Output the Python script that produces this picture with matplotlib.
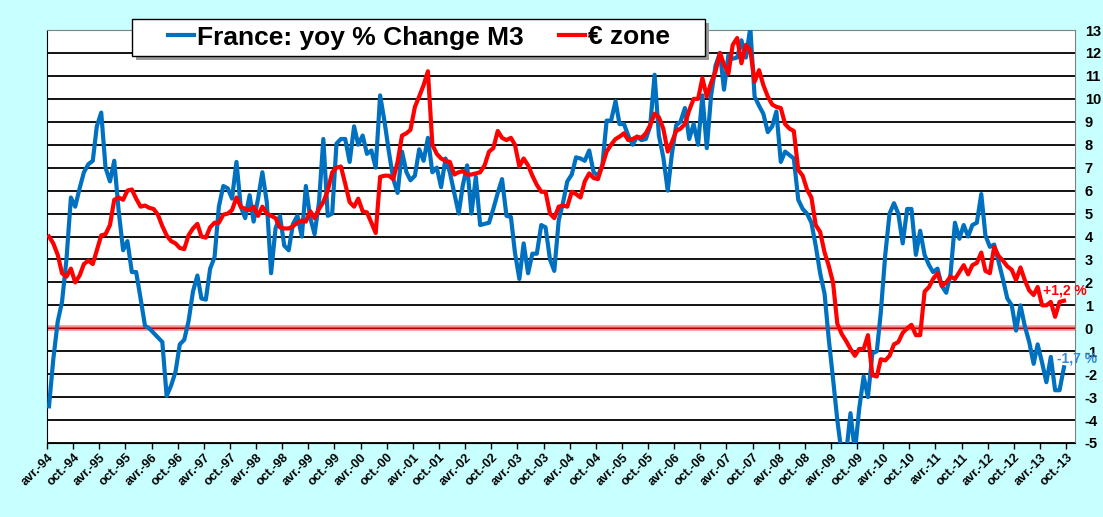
import pandas as pd
import matplotlib.pyplot as plt
import matplotlib.patches as patches

plt.rcParams['font.family'] = ['Liberation Sans', 'DejaVu Sans']
plt.rcParams['axes.unicode_minus'] = False

# monthly yoy % change of M3, first value = april 1994, rows of 12 months (apr..mar)
france = [
    -3.4, -1.35, 0.3, 1.15, 3.0, 5.7, 5.3, 6.1, 6.8, 7.15, 7.3, 8.8,
    9.4, 7.0, 6.4, 7.3, 5.1, 3.4, 3.8, 2.45, 2.45, 1.3, 0.1, 0.0,
    -0.2, -0.4, -0.6, -2.95, -2.5, -1.9, -0.7, -0.5, 0.3, 1.6, 2.3, 1.3,
    1.25, 2.6, 3.1, 5.3, 6.2, 6.1, 5.65, 7.25, 5.3, 4.8, 5.8, 4.65,
    5.65, 6.8, 5.5, 2.4, 4.35, 4.9, 3.6, 3.4, 4.55, 4.9, 4.0, 6.2,
    4.8, 4.1, 5.5, 8.25, 4.9, 5.0, 8.05, 8.25, 8.25, 7.25, 8.8, 8.0,
    8.4, 7.6, 7.75, 7.0, 10.15, 9.0, 7.7, 6.5, 5.9, 7.7, 6.8, 6.45,
    6.65, 7.8, 7.3, 8.3, 6.8, 7.0, 6.15, 7.4, 6.8, 5.9, 5.0, 6.2,
    7.1, 5.0, 6.6, 4.5, 4.55, 4.6, 5.2, 5.9, 6.5, 4.9, 4.85, 3.3,
    2.15, 3.7, 2.4, 3.25, 3.25, 4.5, 4.4, 3.0, 2.5, 4.7, 5.5, 6.4,
    6.7, 7.45, 7.4, 7.3, 7.75, 6.8, 6.65, 7.1, 9.05, 9.05, 9.9, 8.9,
    8.9, 8.4, 8.0, 8.35, 8.2, 8.25, 8.8, 11.05, 8.4, 7.45, 6.0, 7.55,
    8.85, 9.0, 9.6, 8.25, 8.9, 8.0, 10.15, 7.85, 10.15, 11.45, 12.0, 10.4,
    11.9, 11.75, 11.8, 12.55, 11.8, 13.1, 10.1, 9.7, 9.35, 8.55, 8.8, 9.45,
    7.25, 7.7, 7.55, 7.4, 5.6, 5.2, 5.0, 4.6, 3.6, 2.4, 1.5, -0.4,
    -2.2, -4.0, -5.5, -5.5, -3.7, -5.4, -3.5, -2.1, -3.0, -1.1, -1.0, 0.7,
    3.2, 5.0, 5.45, 5.0, 3.7, 5.2, 5.2, 3.2, 4.25, 3.2, 2.75, 2.45,
    2.6, 1.85, 1.55, 2.35, 4.6, 3.9, 4.5, 4.0, 4.5, 4.6, 5.85, 4.05,
    3.55, 3.65, 2.9, 2.15, 1.3, 1.0, -0.1, 1.0, 0.1, -0.6, -1.55, -0.7,
    -1.5, -2.35, -1.25, -2.7, -2.7, -1.7,
]

ezone = [
    4.0, 3.7, 3.2, 2.4, 2.25, 2.6, 2.0, 2.3, 2.8, 2.95, 2.8, 3.4,
    4.05, 4.1, 4.5, 5.6, 5.7, 5.6, 6.0, 6.05, 5.65, 5.3, 5.35, 5.25,
    5.2, 4.95, 4.45, 4.05, 3.8, 3.7, 3.5, 3.45, 4.05, 4.35, 4.55, 4.0,
    3.95, 4.4, 4.6, 4.6, 4.95, 5.0, 5.15, 5.7, 5.3, 5.2, 5.15, 5.3,
    4.9, 5.3, 5.0, 4.9, 4.8, 4.4, 4.35, 4.35, 4.45, 4.6, 4.7, 4.65,
    5.1, 4.8, 5.2, 5.5, 6.0, 6.8, 7.0, 7.05, 6.3, 5.5, 5.3, 5.65,
    5.1, 5.05, 4.6, 4.15, 6.6, 6.65, 6.65, 6.5, 7.25, 8.4, 8.5, 8.65,
    9.65, 10.1, 10.6, 11.2, 8.0, 7.6, 7.4, 7.3, 7.25, 6.7, 6.8, 6.85,
    6.7, 6.7, 6.75, 6.8, 7.1, 7.7, 7.85, 8.6, 8.3, 8.2, 8.3, 8.0,
    7.05, 7.4, 7.1, 6.65, 6.25, 5.95, 5.95, 5.0, 4.8, 5.3, 5.35, 5.3,
    5.95, 5.85, 5.7, 6.4, 6.75, 6.55, 6.5, 7.1, 7.7, 8.0, 8.25, 8.35,
    8.5, 8.2, 8.25, 8.35, 8.3, 8.5, 8.85, 9.35, 9.2, 8.7, 7.7, 8.1,
    8.6, 8.7, 8.9, 9.5, 10.0, 10.0, 10.9, 10.1, 10.7, 11.2, 12.0, 11.5,
    11.1, 12.35, 12.65, 11.55, 12.35, 12.1, 10.75, 11.25, 10.6, 10.1, 9.75, 9.65,
    9.6, 8.9, 8.7, 8.6, 6.9, 6.65, 6.05, 5.7, 4.5, 4.2, 3.3, 2.75,
    2.0, 0.2, -0.25, -0.55, -0.9, -1.2, -0.9, -0.9, -0.3, -2.05, -2.1, -1.35,
    -1.4, -1.2, -0.7, -0.6, -0.2, 0.0, 0.15, -0.3, -0.3, 1.6, 1.8, 2.15,
    2.4, 1.85, 2.0, 2.25, 2.15, 2.45, 2.75, 2.35, 2.75, 2.85, 3.3, 2.5,
    2.4, 3.55, 3.15, 2.95, 2.7, 2.55, 2.1, 2.65, 2.1, 1.65, 1.45, 1.8,
    1.0, 1.0, 1.15, 0.5, 1.15, 1.2,
]

series_names = ['France: yoy % Change M3', '€ zone']
end_labels = ['-1,7 %', '+1,2 %']
y_ticks = list(range(-5, 14))

# points sit in the middle of each month, ticks at the start
dates_fr = pd.date_range('1994-04-01', periods=len(france), freq='MS') + pd.Timedelta(days=14)
dates_ez = pd.date_range('1994-04-01', periods=len(ezone), freq='MS') + pd.Timedelta(days=14)
x_ticks = pd.date_range('1994-04-01', '2013-10-01', freq='6MS')
x_labels = [('avr.' if d.month == 4 else 'oct.') + '-' + d.strftime('%y') for d in x_ticks]

W, H = 1103, 517
fig = plt.figure(figsize=(W / 100, H / 100), dpi=100, facecolor='#C8FFFF')
ax = fig.add_axes([47 / W, 1 - 443 / H, (1075 - 47) / W, (443 - 30) / H])
ax.set_facecolor('white')

l1, = ax.plot(dates_fr, france, color='#0070C0', lw=3.0, zorder=3)
l2, = ax.plot(dates_ez, ezone, color='#FF0000', lw=3.0, zorder=4)

# zero line
ax.axhline(0, color='#F07070', lw=4, alpha=0.75, zorder=2)
ax.axhline(0, color='#B00000', lw=0.8, zorder=2)

ax.set_xlim(pd.Timestamp('1994-04-01'), pd.Timestamp('2013-12-01'))
ax.set_ylim(-5, 13)

ax.set_xticks(x_ticks)
ax.set_xticklabels(x_labels, rotation=45, ha='right', rotation_mode='anchor',
                   fontsize=9, fontweight='bold')
ax.tick_params(axis='x', length=4, width=1, color='black', pad=2)

ax.yaxis.tick_right()
ax.set_yticks(y_ticks)
ax.set_yticklabels([str(v) for v in y_ticks], fontsize=10.5, fontweight='bold')
ax.tick_params(axis='y', length=0, pad=7)

ax.set_axisbelow(True)
ax.grid(axis='y', color='black', lw=1.3)
ax.grid(axis='x', visible=False)

for side in ['top', 'right']:
    ax.spines[side].set_color('#808080')
for side in ['left', 'bottom']:
    ax.spines[side].set_color('black')

ax.annotate(end_labels[1], xy=(dates_ez[-1], ezone[-1]), xytext=(1, 7.5),
            textcoords='offset points', ha='center', va='center',
            color='#FF0000', fontsize=10, fontweight='bold')
ax.annotate(end_labels[0], xy=(dates_fr[-1], france[-1]), xytext=(9.5, 6.2),
            textcoords='offset points', ha='center', va='center',
            color='#2F8AD8', fontsize=10, fontweight='bold')

# legend box with shadow
bx, by, bw, bh = 132 / W, 1 - 56 / H, (705 - 132) / W, (56 - 19) / H
fig.patches.append(patches.Rectangle((bx + 4 / W, by - 4 / H), bw, bh, transform=fig.transFigure,
                                     facecolor='#9A9A9A', edgecolor='none', zorder=5))
fig.patches.append(patches.Rectangle((bx, by), bw, bh, transform=fig.transFigure,
                                     facecolor='white', edgecolor='black', lw=1, zorder=6))
leg = fig.legend([l1, l2], series_names, loc='center', bbox_to_anchor=(419 / W, 1 - 37.5 / H),
                 ncol=2, frameon=False, prop={'weight': 'bold', 'size': 19},
                 handlelength=1.0, handletextpad=0.12, columnspacing=1.3)
leg.set_zorder(7)

plt.savefig('out.png', dpi=100, facecolor=fig.get_facecolor())
